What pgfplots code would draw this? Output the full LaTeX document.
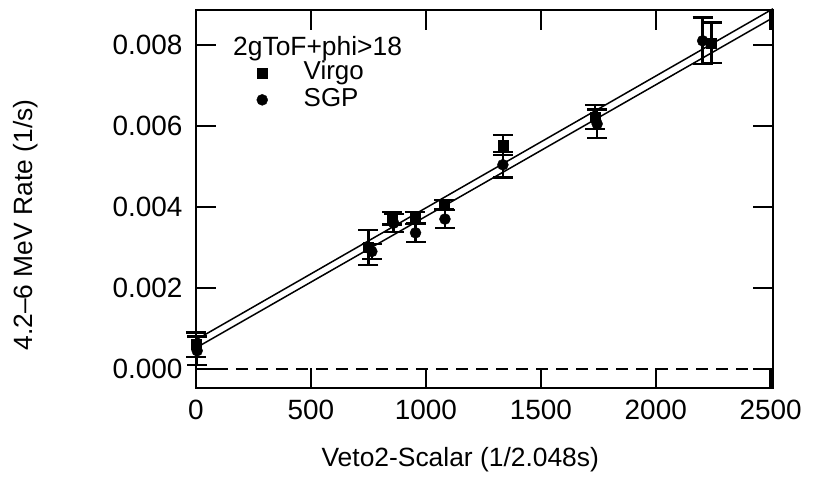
\documentclass[border=0pt]{standalone}
\usepackage{pgfplots}
\pgfplotsset{compat=1.18}
\usepackage{fontspec}
\setmainfont{Liberation Sans}
\begin{document}
\begin{tikzpicture}
\begin{axis}[
  at={(0,0)}, anchor=south west,
  scale only axis, width=577bp, height=378bp,
  xmin=0, xmax=2510, ymin=-0.00047, ymax=0.00886,
  clip=false,
  axis line style={line width=2.5bp},
  every tick/.style={line width=2.5bp, black},
  tick align=inside, major tick length=20bp,
  xtick={0,500,1000,1500,2000,2500},
  ytick={0,0.002,0.004,0.006,0.008},
  scaled y ticks=false,
  /pgf/number format/assume math mode=true,
  ticklabel style={font=\fontsize{28}{33}\selectfont},
  xticklabel style={yshift=-9bp, /pgf/number format/.cd, set thousands separator={}},
  yticklabel style={xshift=-10bp, /pgf/number format/.cd, fixed, zerofill, precision=3},
  label style={font=\fontsize{26.5}{31}\selectfont},
  xlabel={Veto2-Scalar (1/2.048s)},
  ylabel={4.2--6 MeV Rate (1/s)},
  xlabel style={at={(axis description cs:0.458,-0.19)}, anchor=center},
  ylabel style={at={(axis description cs:-0.296,0.431)}, anchor=center, rotate=0},
  legend style={at={(axis description cs:0.1049,0.862)}, anchor=north west, draw=none, fill=none,
    font=\fontsize{26}{30}\selectfont, row sep=6bp, column sep=36bp, inner sep=0pt,
    nodes={inner sep=0pt, text height=17bp, text depth=4bp}},
  legend cell align=left,
]
\addplot[only marks, mark=square*, mark size=5bp, black,
  error bars/.cd, y dir=both, y explicit,
  error mark options={rotate=90, mark size=10bp, line width=2.5bp},
  error bar style={line width=2.5bp}]
  table[x=x, y=y, y error=e] {
x y e
0 0.00060 0.00030
750 0.00300 0.00043
852 0.00372 0.00016
952 0.00373 0.00015
1080 0.00405 0.00012
1335 0.00553 0.00025
1735 0.00622 0.00030
2243 0.00805 0.00050
};
\addlegendentry{Virgo}
\addplot[only marks, mark=*, mark size=5.5bp, black,
  error bars/.cd, y dir=both, y explicit,
  error mark options={rotate=90, mark size=10bp, line width=2.5bp},
  error bar style={line width=2.5bp}]
  table[x=x, y=y, y error=e] {
x y e
5 0.00045 0.00035
765 0.00290 0.00018
860 0.00360 0.00022
955 0.00336 0.00023
1083 0.00370 0.00022
1335 0.00504 0.00032
1745 0.00605 0.00035
2204 0.00810 0.00057
};
\addlegendentry{SGP}
\addplot[black, line width=1.5bp, forget plot] coordinates {(0,0.00072) (2510,0.00889)};
\addplot[black, line width=1.5bp, forget plot] coordinates {(0,0.00052) (2510,0.00867)};
\addplot[black, line width=2bp, dash pattern=on 12bp off 8bp, forget plot] coordinates {(0,0) (2500,0)};
\node[anchor=west, inner sep=0pt, font=\fontsize{26.5}{30}\selectfont] at (axis description cs:0.0641,0.897) {2gToF+phi>18};
\end{axis}
\pgfresetboundingbox
\path (-196bp,-114bp) rectangle (617bp,388bp);
\end{tikzpicture}
\end{document}
